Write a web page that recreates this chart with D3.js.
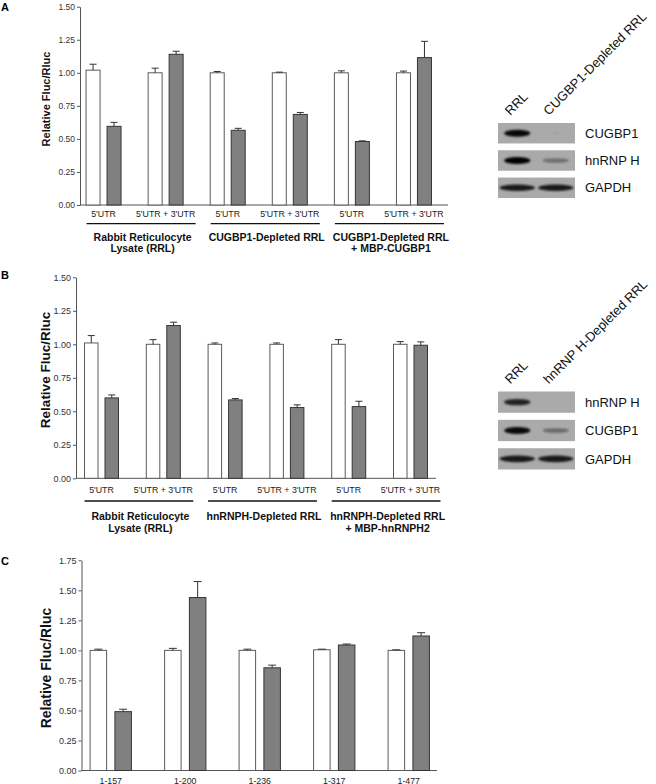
<!DOCTYPE html>
<html><head><meta charset="utf-8">
<script src="https://cdn.jsdelivr.net/npm/d3@7"></script>
<style>body{margin:0;background:#fff} text{font-family:"Liberation Sans",Arial,sans-serif}</style>
</head><body><svg id="c" width="656" height="784"></svg>
<script>
// ---------- data ----------
const utrCategories = ["5'UTR","5'UTR + 3'UTR","5'UTR","5'UTR + 3'UTR","5'UTR","5'UTR + 3'UTR"];
const groupLabelsA = [["Rabbit Reticulocyte","Lysate (RRL)"],["CUGBP1-Depleted RRL"],["CUGBP1-Depleted RRL","+ MBP-CUGBP1"]];
const groupLabelsB = [["Rabbit Reticulocyte","Lysate (RRL)"],["hnRNPH-Depleted RRL"],["hnRNPH-Depleted RRL","+ MBP-hnRNPH2"]];
const whiteA = [1.02,1.00,1.00,1.00,1.00,1.00];
const whiteAErr = [0.045,0.035,0.01,0.005,0.015,0.013];
const grayA = [0.595,1.14,0.565,0.685,0.48,1.115];
const grayAErr = [0.03,0.023,0.015,0.015,0.005,0.123];
const whiteB = [1.01,1.00,1.00,1.00,1.00,1.00];
const whiteBErr = [0.055,0.035,0.01,0.01,0.035,0.02];
const grayB = [0.60,1.14,0.585,0.528,0.535,0.993];
const grayBErr = [0.022,0.025,0.01,0.02,0.04,0.025];
const constructsC = ["1-157","1-200","1-236","1-317","1-477"];
const whiteC = [1.00,1.00,1.00,1.005,1.00];
const whiteCErr = [0.01,0.017,0.01,0.005,0.005];
const grayC = [0.49,1.44,0.855,1.045,1.12];
const grayCErr = [0.02,0.133,0.022,0.008,0.027];
const ticksAB = [0,0.25,0.5,0.75,1.0,1.25,1.5];
const ticksC = [0,0.25,0.5,0.75,1.0,1.25,1.5,1.75];
const yLabel = "Relative Fluc/Rluc";

const blotLanesA = ["RRL","CUGBP1-Depleted RRL"];
const blotRowsA = ["CUGBP1","hnRNP H","GAPDH"];
const blotIntensityA = [[0.95,0.06],[1.0,0.35],[0.85,0.85]];
const blotLanesB = ["RRL","hnRNP H-Depleted RRL"];
const blotRowsB = ["hnRNP H","CUGBP1","GAPDH"];
const blotIntensityB = [[0.8,0.0],[0.95,0.38],[0.85,0.85]];

// ---------- drawing ----------
const svg = d3.select("#c");
const defs = svg.append("defs");
defs.append("filter").attr("id","blur").attr("x","-50%").attr("y","-100%").attr("width","200%").attr("height","300%")
  .append("feGaussianBlur").attr("stdDeviation","1.3 1.0");

function drawPanel(cfg){
  const g = svg.append("g");
  const y = d3.scaleLinear().domain([0,cfg.yMax]).range([cfg.yBottom,cfg.yTop]);
  const x = d3.scaleBand().domain(d3.range(cfg.cats.length)).range(cfg.bandRange);
  const step = cfg.barW + cfg.gap;
  const sub = d3.scaleBand().domain(["white","gray"])
    .range([-(2*cfg.barW+cfg.gap)/2,(2*cfg.barW+cfg.gap)/2]).paddingInner(cfg.gap/step).paddingOuter(0);
  const cx = i => x(i) + x.bandwidth()/2;

  // y axis
  const ax = g.append("g").attr("transform",`translate(${cfg.axisX},0)`)
    .call(d3.axisLeft(y).tickValues(cfg.ticks).tickFormat(d3.format(".2f")).tickSize(3).tickSizeOuter(0).tickPadding(2));
  ax.select(".domain").attr("stroke","#555");
  ax.selectAll(".tick line").attr("stroke","#555");
  ax.selectAll(".tick text").attr("fill","#333").style("font-size",cfg.tickFont+"px").style("font-family","Liberation Sans, Arial, sans-serif");
  // x axis line
  g.append("line").attr("x1",cfg.axisX).attr("x2",cfg.axisEnd).attr("y1",y(0)).attr("y2",y(0))
    .attr("stroke","#555").attr("stroke-width",1);

  const series = [
    {key:"white", vals:cfg.white, errs:cfg.whiteErr, fill:"#ffffff", stroke:"#5a5a5a"},
    {key:"gray", vals:cfg.gray, errs:cfg.grayErr, fill:"#808080", stroke:"#353535"}
  ];
  series.forEach(s=>{
    const sg = g.append("g");
    const bw = sub.bandwidth();
    sg.selectAll("rect").data(s.vals).join("rect")
      .attr("x",(d,i)=>cx(i)+sub(s.key)).attr("width",bw)
      .attr("y",d=>y(d)).attr("height",d=>y(0)-y(d))
      .attr("fill",s.fill).attr("stroke",s.stroke).attr("stroke-width",1);
    sg.selectAll("line.e").data(s.vals).join("line").attr("class","e")
      .attr("x1",(d,i)=>cx(i)+sub(s.key)+bw/2).attr("x2",(d,i)=>cx(i)+sub(s.key)+bw/2)
      .attr("y1",d=>y(d)).attr("y2",(d,i)=>y(d+s.errs[i])).attr("stroke","#333");
    sg.selectAll("line.c").data(s.vals).join("line").attr("class","c")
      .attr("x1",(d,i)=>cx(i)+sub(s.key)+bw/2-cfg.cap/2).attr("x2",(d,i)=>cx(i)+sub(s.key)+bw/2+cfg.cap/2)
      .attr("y1",(d,i)=>y(d+s.errs[i])).attr("y2",(d,i)=>y(d+s.errs[i])).attr("stroke","#333");
  });

  // category labels
  g.selectAll("text.cat").data(cfg.cats).join("text").attr("class","cat")
    .attr("x",(d,i)=>cx(i)).attr("y",cfg.catY).attr("text-anchor","middle")
    .style("font-size",cfg.catFont+"px").attr("fill","#222").text(d=>d);

  // y label
  g.append("text").attr("transform",`translate(${cfg.ylabelX},${cfg.ylabelY}) rotate(-90)`)
    .attr("text-anchor","middle").style("font-size",cfg.ylabelFont+"px").style("font-weight","bold")
    .attr("fill","#111").text(yLabel);

  // panel letter
  g.append("text").attr("x",1).attr("y",cfg.letterY).style("font-size","11px").style("font-weight","bold").text(cfg.letter);

  // groups
  if(cfg.groups){
    cfg.groups.forEach((lines,k)=>{
      const a = cx(2*k), b = cx(2*k+1);
      g.append("line").attr("x1",a-17).attr("x2",b+30).attr("y1",cfg.lineY).attr("y2",cfg.lineY)
        .attr("stroke","#111").attr("stroke-width",1.3);
      const mid = (a+b)/2 + 8;
      lines.forEach((t,j)=>{
        g.append("text").attr("x",mid).attr("y",cfg.supY + j*cfg.supLH).attr("text-anchor","middle")
          .style("font-size",cfg.supFont+"px").style("font-weight","bold").attr("fill","#111").text(t);
      });
    });
  }
}

drawPanel({letter:"A", letterY:11, cats:utrCategories, groups:groupLabelsA,
  white:whiteA, whiteErr:whiteAErr, gray:grayA, grayErr:grayAErr,
  yMax:1.5, ticks:ticksAB, yTop:6.7, yBottom:205, axisX:80, axisEnd:448, bandRange:[72.5,445],
  barW:14, gap:7, cap:7, tickFont:8.5, catFont:8.8, catY:216.5, lineY:223.7, supY:240.5, supLH:11.8, supFont:10.5,
  ylabelX:50, ylabelY:99, ylabelFont:11});

drawPanel({letter:"B", letterY:279, cats:utrCategories, groups:groupLabelsB,
  white:whiteB, whiteErr:whiteBErr, gray:grayB, grayErr:grayBErr,
  yMax:1.5, ticks:ticksAB, yTop:277.3, yBottom:478.3, axisX:76, axisEnd:436, bandRange:[70.6,441.4],
  barW:13.5, gap:7, cap:7, tickFont:9, catFont:8.8, catY:493.3, lineY:501, supY:519.5, supLH:12.5, supFont:10.5,
  ylabelX:50, ylabelY:370, ylabelFont:13.5});

drawPanel({letter:"C", letterY:565, cats:constructsC, groups:null,
  white:whiteC, whiteErr:whiteCErr, gray:grayC, grayErr:grayCErr,
  yMax:1.75, ticks:ticksC, yTop:560.3, yBottom:770.5, axisX:81.5, axisEnd:437, bandRange:[73.5,446],
  barW:16.5, gap:8.3, cap:8, tickFont:9, catFont:8.8, catY:783.5,
  ylabelX:50.5, ylabelY:668, ylabelFont:14});

function drawBlot(lanes, rows, inten, xr, yr){
  const g = svg.append("g");
  const lx = d3.scaleBand().domain(d3.range(lanes.length)).range(xr);
  const ry = d3.scaleBand().domain(d3.range(rows.length)).range(yr).paddingInner(0.25);
  rows.forEach((r,ri)=>{
    g.append("rect").attr("x",xr[0]).attr("y",ry(ri)).attr("width",xr[1]-xr[0]).attr("height",ry.bandwidth())
      .attr("fill","#aaaaaa");
    g.selectAll(null).data(inten[ri]).join("ellipse")
      .attr("cx",(d,i)=>lx(i)+lx.bandwidth()/2)
      .attr("cy",ry(ri)+ry.bandwidth()/2)
      .attr("rx",d=> d<0.15? 2 : (ri===rows.length-1 ? lx.bandwidth()*0.46 : lx.bandwidth()*0.34))
      .attr("ry",d=> d<0.15? 1.5 : 1.6+2*d)
      .attr("fill","#000").attr("opacity",d=>Math.min(1,d))
      .attr("filter","url(#blur)");
    g.append("text").attr("x",xr[1]+10).attr("y",ry(ri)+ry.bandwidth()/2).attr("dy","0.36em")
      .style("font-size","13px").attr("fill","#111").text(r);
  });
  lanes.forEach((l,i)=>{
    const c = lx(i)+lx.bandwidth()/2;
    g.append("text").attr("transform",`translate(${c-7},${yr[0]-7}) rotate(-45)`)
      .style("font-size","13px").attr("fill","#111").text(l);
  });
}
drawBlot(blotLanesA, blotRowsA, blotIntensityA, [498,575], [123,198]);
drawBlot(blotLanesB, blotRowsB, blotIntensityB, [498,575], [391.5,469.5]);
</script></body></html>
